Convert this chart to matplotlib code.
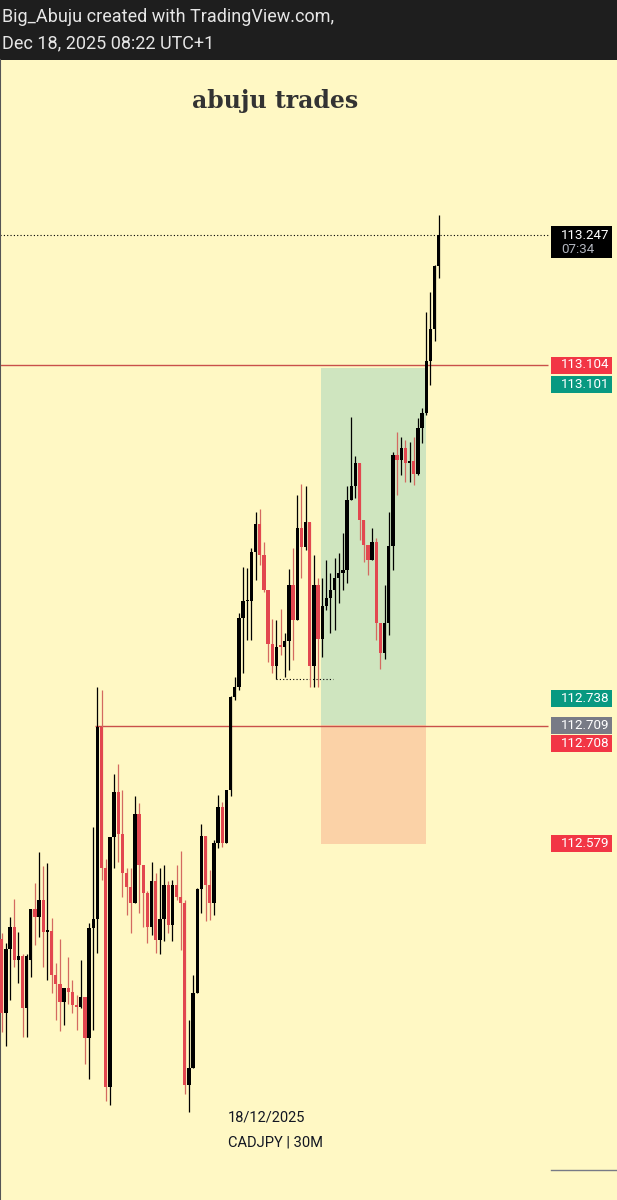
from matplotlib import pyplot as plt
from matplotlib.patches import Rectangle
from matplotlib.transforms import blended_transform_factory
import numpy as np

plt.rcParams['font.family'] = ['Roboto', 'DejaVu Sans']

# CADJPY 30M candles
opens = [112.475, 112.393, 112.464, 112.488, 112.452, 112.456, 112.399, 112.452, 112.508, 112.499,
         112.517, 112.482, 112.483, 112.435, 112.425, 112.405, 112.421, 112.417, 112.402, 112.400,
         112.411, 112.366, 112.487, 112.497, 112.707, 112.552, 112.312, 112.587, 112.636, 112.590,
         112.547, 112.532, 112.514, 112.612, 112.556, 112.525, 112.488, 112.538, 112.473, 112.497,
         112.534, 112.490, 112.534, 112.521, 112.514, 112.315, 112.333, 112.415, 112.529, 112.588,
         112.534, 112.514, 112.580, 112.619, 112.580, 112.638, 112.740, 112.751, 112.827, 112.845,
         112.845, 112.899, 112.930, 112.896, 112.857, 112.798, 112.774, 112.797, 112.795, 112.801,
         112.863, 112.824, 112.925, 112.904, 112.932, 112.774, 112.863, 112.804, 112.840, 112.849,
         112.857, 112.870, 112.876, 112.879, 112.956, 112.971, 112.997, 112.934, 112.907, 112.890,
         112.910, 112.821, 112.788, 112.821, 112.905, 113.005, 113.000, 113.013, 112.997, 112.999,
         112.985, 113.035, 113.051, 113.108, 113.143, 113.213]
highs = [112.481, 112.470, 112.499, 112.518, 112.482, 112.458, 112.458, 112.508, 112.536, 112.570,
         112.555, 112.558, 112.498, 112.448, 112.475, 112.421, 112.455, 112.430, 112.413, 112.452,
         112.411, 112.492, 112.597, 112.751, 112.748, 112.562, 112.587, 112.656, 112.666, 112.638,
         112.552, 112.552, 112.631, 112.624, 112.556, 112.527, 112.559, 112.547, 112.553, 112.556,
         112.538, 112.539, 112.556, 112.571, 112.517, 112.386, 112.435, 112.530, 112.601, 112.588,
         112.550, 112.583, 112.632, 112.625, 112.638, 112.741, 112.762, 112.832, 112.883, 112.881,
         112.903, 112.943, 112.946, 112.910, 112.857, 112.825, 112.824, 112.837, 112.810, 112.880,
         112.903, 112.961, 112.974, 112.971, 112.932, 112.896, 112.870, 112.870, 112.890, 112.876,
         112.892, 112.898, 112.920, 112.971, 113.047, 113.004, 112.997, 112.934, 112.907, 112.925,
         112.914, 112.821, 112.863, 112.943, 113.009, 113.031, 113.025, 113.022, 113.020, 113.025,
         113.046, 113.057, 113.162, 113.184, 113.214, 113.269]
lows = [112.373, 112.357, 112.408, 112.444, 112.426, 112.367, 112.367, 112.433, 112.468, 112.477,
        112.444, 112.430, 112.415, 112.386, 112.374, 112.380, 112.403, 112.393, 112.375, 112.399,
        112.338, 112.321, 112.375, 112.459, 112.539, 112.297, 112.293, 112.552, 112.559, 112.521,
        112.501, 112.481, 112.514, 112.503, 112.488, 112.470, 112.479, 112.459, 112.458, 112.472,
        112.481, 112.472, 112.517, 112.463, 112.305, 112.285, 112.333, 112.415, 112.503, 112.494,
        112.495, 112.501, 112.574, 112.576, 112.580, 112.631, 112.737, 112.748, 112.766, 112.802,
        112.802, 112.868, 112.885, 112.855, 112.778, 112.766, 112.760, 112.786, 112.762, 112.770,
        112.781, 112.824, 112.870, 112.901, 112.751, 112.751, 112.751, 112.784, 112.835, 112.810,
        112.813, 112.843, 112.857, 112.865, 112.956, 112.958, 112.912, 112.888, 112.874, 112.890,
        112.802, 112.771, 112.782, 112.808, 112.879, 112.961, 112.983, 112.976, 112.976, 112.972,
        112.983, 113.018, 113.049, 113.082, 113.130, 113.199]
closes = [112.393, 112.464, 112.488, 112.452, 112.456, 112.399, 112.456, 112.508, 112.499, 112.517,
          112.482, 112.484, 112.435, 112.425, 112.405, 112.421, 112.417, 112.402, 112.400, 112.411,
          112.366, 112.487, 112.497, 112.707, 112.552, 112.312, 112.587, 112.636, 112.590, 112.547,
          112.532, 112.514, 112.612, 112.556, 112.525, 112.488, 112.538, 112.473, 112.497, 112.534,
          112.490, 112.534, 112.521, 112.514, 112.315, 112.333, 112.415, 112.529, 112.588, 112.534,
          112.514, 112.580, 112.619, 112.580, 112.638, 112.740, 112.751, 112.827, 112.845, 112.846,
          112.899, 112.930, 112.896, 112.857, 112.798, 112.774, 112.795, 112.795, 112.801, 112.863,
          112.824, 112.925, 112.904, 112.932, 112.774, 112.863, 112.804, 112.840, 112.849, 112.857,
          112.870, 112.876, 112.879, 112.956, 112.971, 112.997, 112.934, 112.907, 112.890, 112.910,
          112.821, 112.788, 112.821, 112.905, 113.005, 113.000, 113.013, 112.997, 112.999, 112.985,
          113.035, 113.051, 113.108, 113.143, 113.213, 113.247]

# levels and position tool
last_price = 113.247
last_time = "07:34"
resistance = 113.104
support = 112.708
entry = 112.709
target = 113.101
stop = 112.579
marker_price = 112.738
swing_low = 112.760
pos_first, pos_last = 76.7, 101.9

labels = [("113.104", resistance, 0, "#f23645"),
          ("113.101", target, -1, "#089981"),
          ("112.738", marker_price, 0, "#089981"),
          ("112.709", entry, 0, "#787b86"),
          ("112.708", support, -1, "#f23645"),
          ("112.579", stop, 0, "#f23645")]

BG = "#fff8c4"
RED = "#e2474f"
RED_WICK = "#d46a60"

fig = plt.figure(figsize=(6.17, 12), dpi=100)
fig.patch.set_facecolor("#1e1e1e")
ax = fig.add_axes([0, 0, 1, 1140 / 1200])
ax.set_facecolor(BG)

n = len(opens)
x = np.arange(n)
o = np.array(opens)
c = np.array(closes)
up = c >= o

# px -> index / price scale of the screenshot
step = 4.162
x0 = -1.7 / step
x1 = (617 - 1.7) / step
ax.set_xlim(x0, x1)
ax.set_ylim(113.104 - 835 / 912, 113.104 + 305 / 912)
xr = (548 - 1.7) / step

# position tool boxes
ax.add_patch(Rectangle((pos_first, entry), pos_last - pos_first, target - entry,
                       facecolor="#cfe5bf", edgecolor="none", zorder=1))
ax.add_patch(Rectangle((pos_first, stop), pos_last - pos_first, entry - stop,
                       facecolor="#fbd2a7", edgecolor="none", zorder=1))

# horizontal levels
ax.hlines(resistance, x0, xr, color="#c9504a", lw=1, zorder=2)
ax.hlines(support, 22.3, xr, color="#c9504a", lw=1, zorder=2)
ax.hlines(last_price, x0, xr, color="black", lw=0.8, linestyles=(0, (1, 2)), zorder=2)
ax.hlines(swing_low, 66, 79.5, color="black", lw=0.8, linestyles=(0, (1, 2)), zorder=2)

# candles
wick_cols = np.where(up, "black", RED_WICK)
body_cols = np.where(up, "black", RED)
ax.vlines(x, lows, highs, colors=wick_cols, lw=0.9, zorder=3)
heights = np.where(np.abs(c - o) < 0.0015, 0.0015, np.abs(c - o))
bottoms = np.minimum(o, c)
ax.bar(x, heights, bottom=bottoms, width=0.8, color=body_cols, linewidth=0, zorder=4)

for s in ["top", "right", "bottom"]:
    ax.spines[s].set_visible(False)
ax.spines["left"].set_color("#555555")
ax.spines["left"].set_linewidth(1.5)
ax.set_xticks([])
ax.set_yticks([])

# price scale labels
tr = blended_transform_factory(ax.transAxes, ax.transData)
bx = 551 / 617
bw = 61 / 617
bh = 17 / 912
for txt, price, shift, col in labels:
    yc = price + shift * bh
    ax.add_patch(Rectangle((bx, yc - bh / 2), bw, bh, transform=tr,
                           facecolor=col, edgecolor="none", zorder=5, clip_on=False))
    ax.text(bx + 10 / 617, yc, txt, transform=tr, color="white", fontsize=9.6,
            va="center", ha="left", zorder=6)

top = last_price + 9 / 912
ax.add_patch(Rectangle((bx, top - 32 / 912), bw, 32 / 912, transform=tr,
                       facecolor="black", edgecolor="none", zorder=5))
ax.text(bx + 10 / 617, last_price - 1 / 912, f"{last_price:.3f}", transform=tr,
        color="white", fontsize=9.6, va="center", ha="left", zorder=6)
ax.text(bx + 10 / 617, last_price - 15 / 912, last_time, transform=tr,
        color="#b2b5be", fontsize=9.6, va="center", ha="left", zorder=6)

ax.plot([bx, 1], [113.104 - 805 / 912] * 2, transform=tr, color="#787b86", lw=1)

# header and annotations
fig.text(2 / 617, 1 - 17 / 1200, "Big_Abuju created with TradingView.com,",
         color="#e6e6e6", fontsize=13, va="center", ha="left")
fig.text(2 / 617, 1 - 43 / 1200, "Dec 18, 2025 08:22 UTC+1",
         color="#e6e6e6", fontsize=13, va="center", ha="left")
fig.text(275 / 617, 1 - 101 / 1200, "abuju trades", family="DejaVu Serif",
         fontweight="bold", fontsize=17, color="#333333", va="center", ha="center")
fig.text(228 / 617, 1 - 1118 / 1200, "18/12/2025", color="#131722",
         fontsize=10.5, va="center", ha="left")
fig.text(228 / 617, 1 - 1142 / 1200, "CADJPY | 30M", color="#131722",
         fontsize=10.5, va="center", ha="left")

plt.savefig("out.png", dpi=100, facecolor=fig.get_facecolor())
